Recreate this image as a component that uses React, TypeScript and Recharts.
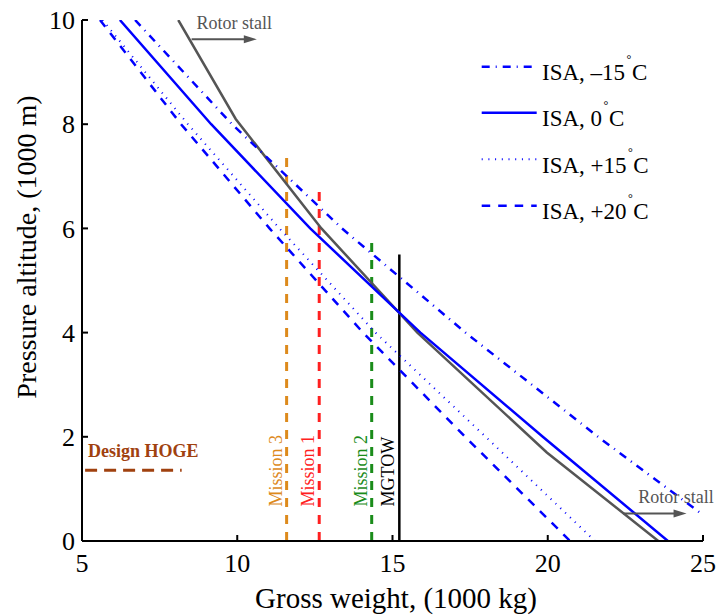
import { LineChart, Line, XAxis, YAxis, ReferenceLine, Legend } from 'recharts';

// altitude (1000 m) vs gross weight (1000 kg)
const altitudes = [10, 8, 6, 4, 2, 0];
const altitudesCold = [10, 8, 6, 4, 2, 0.5];
const weightIsaM15 = [6.71, 9.83, 13.37, 17.35, 21.62, 25.0];
const weightIsa0 = [6.22, 9.16, 12.35, 15.9, 19.84, 23.87];
const weightIsaP15 = [5.66, 8.41, 11.36, 14.45, 18.0, 21.52];
const weightIsaP20 = [5.58, 8.19, 11.04, 14.05, 17.34, 20.72];

const stallAltitudes = [10, 8.1, 6, 4, 1.7, 0];
const stallWeights = [8.1, 9.95, 12.71, 15.8, 19.97, 23.56];

const missionNames = ['Mission 3', 'Mission 1', 'Mission 2', 'MGTOW'];
const missionWeights = [11.59, 12.64, 14.33, 15.22];
const missionTops = [7.5, 6.75, 5.85, 5.5];
const missionColors = ['#dd8a1c', '#ff2020', '#1a8c1a', '#000000'];

const hogeAltitude = 1.36;
const hogeWeights = [5.1, 8.21];

const stallArrowTop = { alt: 9.63, from: 8.53, to: 10.63 };
const stallArrowBottom = { alt: 0.53, from: 22.43, to: 24.47 };

const xTicks = [5, 10, 15, 20, 25];
const yTicks = [0, 2, 4, 6, 8, 10];

const FONT = '"Liberation Serif", "Times New Roman", serif';
const BLUE = '#0000ff';
const GREY = '#555555';

const toPoints = (ws: number[], alts: number[]) => ws.map((w, i) => ({ w, alt: alts[i] }));

const series = [
  { name: 'ISA, –15', data: toPoints(weightIsaM15, altitudesCold), dash: '8 6 1 6', width: 2.5 },
  { name: 'ISA, 0', data: toPoints(weightIsa0, altitudes), dash: undefined, width: 2.5 },
  { name: 'ISA, +15', data: toPoints(weightIsaP15, altitudes), dash: '1 5.7', width: 2 },
  { name: 'ISA, +20', data: toPoints(weightIsaP20, altitudes), dash: '8.5 8', width: 2.5 },
];
const stallData = toPoints(stallWeights, stallAltitudes);

function XTick({ x, y, payload }: any) {
  return (
    <g>
      <line x1={x} y1={y} x2={x} y2={y - 6} stroke="#000" strokeWidth={2} />
      <text x={x} y={y + 31} textAnchor="middle" fontSize={26} fontFamily={FONT} fill="#000">
        {payload.value}
      </text>
    </g>
  );
}

function YTick({ x, y, payload }: any) {
  return (
    <g>
      <line x1={x} y1={y} x2={x + 6} y2={y} stroke="#000" strokeWidth={2} />
      <text x={x - 7} y={y} dy="0.35em" textAnchor="end" fontSize={26} fontFamily={FONT} fill="#000">
        {payload.value}
      </text>
    </g>
  );
}

const stallArrow = (textDx: number) => (props: any) => {
  const { x1, y1, x2 } = props;
  return (
    <g>
      <line x1={x1} y1={y1} x2={x2 - 10} y2={y1} stroke={GREY} strokeWidth={2} />
      <polygon points={`${x2},${y1} ${x2 - 13},${y1 - 4} ${x2 - 13},${y1 + 4}`} fill={GREY} />
      <text x={x1 + textDx} y={y1 - 10} fontSize={18} fontFamily={FONT} fill={GREY}>
        Rotor stall
      </text>
    </g>
  );
};

const MissionLabel = (text: string, color: string) => (props: any) => {
  const { viewBox } = props;
  const x = viewBox.x - 5;
  const y = 506.5;
  return (
    <text
      x={x}
      y={y}
      transform={`rotate(-90 ${x} ${y})`}
      fontSize={18}
      fontFamily={FONT}
      fill={color}
    >
      {text}
    </text>
  );
};

const HogeLabel = (props: any) => {
  const { viewBox } = props;
  return (
    <text x={viewBox.x + 3} y={viewBox.y - 13} fontSize={18} fontWeight="bold" fontFamily={FONT} fill="#a0410f">
      Design HOGE
    </text>
  );
};

function LegendBox() {
  const rows = [21.7, 67.7, 114.3, 160.7];
  return (
    <svg width={240} height={180}>
      {series.map((s, i) => (
        <g key={s.name}>
          <line
            x1={6.7}
            x2={61.7}
            y1={rows[i]}
            y2={rows[i]}
            stroke={BLUE}
            strokeWidth={s.width}
            strokeDasharray={s.dash}
          />
          <text x={67} y={rows[i] + 13.3} fontSize={23} fontFamily={FONT} fill="#000">
            <tspan>{s.name}</tspan>
            <tspan dx={1.5} dy={-17} fontSize={12}>°</tspan>
            <tspan dx={0.5} dy={17}>C</tspan>
          </text>
        </g>
      ))}
    </svg>
  );
}

export default function App() {
  return (
    <div style={{ position: 'absolute', left: 0, top: 0 }}>
      <LineChart width={717} height={616} margin={{ top: 20, right: 14, bottom: 0, left: 0 }}>
        <XAxis
          type="number"
          dataKey="w"
          domain={[5, 25]}
          ticks={xTicks}
          interval={0}
          allowDataOverflow
          height={75}
          tickSize={0}
          tickMargin={0}
          tickLine={false}
          tick={<XTick />}
          axisLine={{ stroke: '#000', strokeWidth: 2 }}
          label={() => (
            <text x={396} y={608} textAnchor="middle" fontSize={29} fontFamily={FONT} fill="#000">
              Gross weight, (1000 kg)
            </text>
          )}
        />
        <YAxis
          type="number"
          dataKey="alt"
          domain={[0, 10]}
          ticks={yTicks}
          interval={0}
          allowDataOverflow
          width={82}
          tickSize={0}
          tickMargin={0}
          tickLine={false}
          tick={<YTick />}
          axisLine={{ stroke: '#000', strokeWidth: 2 }}
          label={() => (
            <text
              x={36}
              y={247}
              transform="rotate(-90 36 247)"
              textAnchor="middle"
              fontSize={28}
              fontFamily={FONT}
              fill="#000"
            >
              Pressure altitude, (1000 m)
            </text>
          )}
        />
        <Legend
          layout="horizontal"
          align="center"
          verticalAlign="middle"
          wrapperStyle={{ left: 475, top: 45, width: 240 }}
          content={() => <LegendBox />}
        />

        {missionNames.map((name, i) => (
          <ReferenceLine
            key={name}
            segment={[
              { x: missionWeights[i], y: 0 },
              { x: missionWeights[i], y: missionTops[i] },
            ]}
            stroke={missionColors[i]}
            strokeWidth={name === 'MGTOW' ? 2.5 : 3}
            strokeDasharray={name === 'MGTOW' ? undefined : '9 8'}
            label={MissionLabel(name, name === 'MGTOW' ? '#000' : missionColors[i])}
          />
        ))}

        <ReferenceLine
          segment={[
            { x: hogeWeights[0], y: hogeAltitude },
            { x: hogeWeights[1], y: hogeAltitude },
          ]}
          stroke="#a0410f"
          strokeWidth={3}
          strokeDasharray="12 7"
          label={HogeLabel}
        />

        <Line
          data={stallData}
          dataKey="alt"
          type="linear"
          stroke={GREY}
          strokeWidth={2.5}
          dot={false}
          legendType="none"
          isAnimationActive={false}
        />
        {series.map((s) => (
          <Line
            key={s.name}
            name={s.name}
            data={s.data}
            dataKey="alt"
            type="linear"
            stroke={BLUE}
            strokeWidth={s.width}
            strokeDasharray={s.dash}
            dot={false}
            isAnimationActive={false}
          />
        ))}

        <ReferenceLine
          segment={[
            { x: stallArrowTop.from, y: stallArrowTop.alt },
            { x: stallArrowTop.to, y: stallArrowTop.alt },
          ]}
          shape={stallArrow(5)}
        />
        <ReferenceLine
          segment={[
            { x: stallArrowBottom.from, y: stallArrowBottom.alt },
            { x: stallArrowBottom.to, y: stallArrowBottom.alt },
          ]}
          shape={stallArrow(15)}
        />
      </LineChart>
    </div>
  );
}
